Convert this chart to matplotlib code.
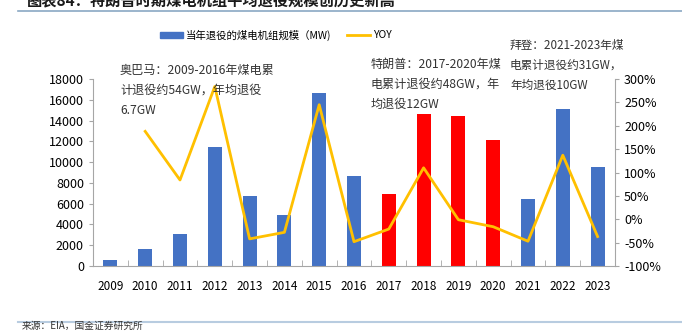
import matplotlib
matplotlib.use('Agg')
import matplotlib.pyplot as plt
from matplotlib.lines import Line2D
from matplotlib.patches import Patch

# Font with CJK support, DejaVu as fallback
plt.rcParams['font.family'] = ['Noto Sans CJK SC', 'DejaVu Sans']

# Data
years = ['2009', '2010', '2011', '2012', '2013', '2014', '2015', '2016',
         '2017', '2018', '2019', '2020', '2021', '2022', '2023']
retired_mw = [580, 1630, 3060, 11450, 6730, 4880, 16620, 8710,
              6960, 14610, 14420, 12120, 6440, 15090, 9540]
yoy_pct = [None, 188, 84, 284, -42, -28, 245, -48,
           -21, 110, -1, -16, -47, 137, -37]
trump_years = ['2017', '2018', '2019', '2020']

blue = '#4472C4'
red = '#FF0000'
gold = '#FFC000'
axis_grey = '#A6A6A6'

fig = plt.figure(figsize=(6.82, 3.32), dpi=100)
ax = fig.add_axes([93 / 682, 66 / 332, 522 / 682, 187 / 332])

# Bars: Trump years in red
x = list(range(len(years)))
colors = [red if y in trump_years else blue for y in years]
ax.bar(x, retired_mw, width=0.4, color=colors, zorder=2)

ax.set_xlim(-0.5, len(years) - 0.5)
ax.set_ylim(0, 18000)
ax.set_yticks(range(0, 18001, 2000))
ax.set_xticks(x)
ax.set_xticklabels(years)
ax.set_xticks([i + 0.5 for i in x[:-1]], minor=True)
ax.tick_params(axis='x', which='major', length=0, labelsize=8.5, pad=10)
ax.tick_params(axis='x', which='minor', direction='in', length=4, color=axis_grey)
ax.tick_params(axis='y', labelsize=9, length=3, color=axis_grey)

for side in ['top', 'right']:
    ax.spines[side].set_visible(False)
for side in ['left', 'bottom']:
    ax.spines[side].set_color(axis_grey)

# YOY line on secondary axis
ax2 = ax.twinx()
yx = [i for i, v in enumerate(yoy_pct) if v is not None]
yv = [v for v in yoy_pct if v is not None]
ax2.plot(yx, yv, color=gold, linewidth=2, zorder=3)
ax2.set_ylim(-100, 300)
ax2.set_yticks(range(-100, 301, 50))
ax2.set_yticklabels([f'{t}%' for t in range(-100, 301, 50)])
ax2.tick_params(axis='y', labelsize=9, length=3, color=axis_grey)
for side in ['top', 'left', 'bottom']:
    ax2.spines[side].set_visible(False)
ax2.spines['right'].set_color(axis_grey)

# Legend
handles = [Patch(color=blue), Line2D([0], [0], color=gold, linewidth=2)]
fig.legend(handles, ['当年退役的煤电机组规模（MW)', 'YOY'], loc='center',
           bbox_to_anchor=(0.405, 1 - 35 / 332), ncol=2, frameon=False,
           fontsize=7.5, handlelength=2.2, handleheight=0.6, columnspacing=1.5,
           handletextpad=0.3)

# Annotations
note_kw = dict(va='top', ha='left', linespacing=1.7, color='#333333')
fig.text(120 / 682, 1 - 64 / 332, '奥巴马：2009-2016年煤电累\n计退役约54GW，年均退役\n6.7GW',
         fontsize=8.7, **note_kw)
fig.text(371 / 682, 1 - 58 / 332, '特朗普：2017-2020年煤\n电累计退役约48GW，年\n均退役12GW',
         fontsize=8.7, **note_kw)
fig.text(510 / 682, 1 - 39 / 332, '拜登：2021-2023年煤\n电累计退役约31GW，\n年均退役10GW',
         fontsize=8.4, **note_kw)

# Title (cut off at top) and frame lines
fig.text(27 / 682, 1 - 5 / 332, '图表84：特朗普时期煤电机组平均退役规模创历史新高',
         fontsize=11, fontweight='bold', va='baseline', ha='left', color='#1a1a1a')
fig.add_artist(Line2D([18 / 682, 1], [1 - 11 / 332, 1 - 11 / 332],
                      color='#8AA8C4', linewidth=1.2))
fig.add_artist(Line2D([18 / 682, 1], [10 / 332, 10 / 332],
                      color='#B8CCE0', linewidth=1.5))
fig.text(22 / 682, 6 / 332, '来源：EIA，国金证券研究所', fontsize=7, va='center',
         ha='left', color='#333333')

fig.savefig('out.png', dpi=100)
